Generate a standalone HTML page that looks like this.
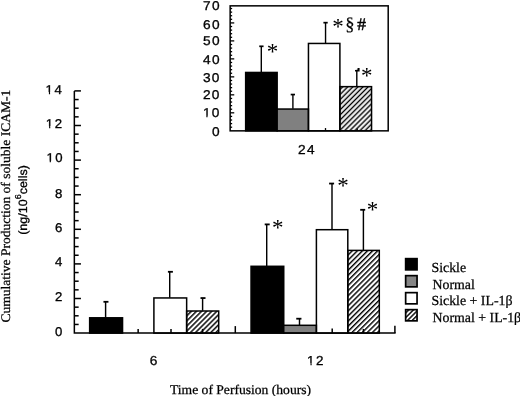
<!DOCTYPE html><html><head><meta charset="utf-8"><title>Cumulative production of soluble ICAM-1</title><style>html,body{margin:0;padding:0;background:#fff;}svg{display:block}text{text-rendering:geometricPrecision}</style></head><body><svg width="520" height="396" viewBox="0 0 520 396"><rect width="520" height="396" fill="#fff"/>
<defs><pattern id="hA" width="3.600" height="10" patternUnits="userSpaceOnUse" patternTransform="rotate(45)"><line x1="2.600" y1="-1" x2="2.600" y2="11" stroke="#000" stroke-width="1.45"/><line x1="-1.000" y1="-1" x2="-1.000" y2="11" stroke="#000" stroke-width="1.45"/></pattern><pattern id="hB" width="3.600" height="10" patternUnits="userSpaceOnUse" patternTransform="rotate(45)"><line x1="1.600" y1="-1" x2="1.600" y2="11" stroke="#000" stroke-width="1.45"/><line x1="-2.000" y1="-1" x2="-2.000" y2="11" stroke="#000" stroke-width="1.45"/></pattern><pattern id="hC" width="3.600" height="10" patternUnits="userSpaceOnUse" patternTransform="rotate(45)"><line x1="1.320" y1="-1" x2="1.320" y2="11" stroke="#000" stroke-width="1.45"/><line x1="-2.280" y1="-1" x2="-2.280" y2="11" stroke="#000" stroke-width="1.45"/></pattern><pattern id="hL" width="3.300" height="10" patternUnits="userSpaceOnUse" patternTransform="rotate(45)"><line x1="3.250" y1="-1" x2="3.250" y2="11" stroke="#000" stroke-width="1.40"/><line x1="-0.050" y1="-1" x2="-0.050" y2="11" stroke="#000" stroke-width="1.40"/></pattern></defs>
<line x1="74.35" y1="324.45" x2="78.65" y2="324.45" stroke="#000" stroke-width="1.50"/>
<line x1="74.35" y1="315.80" x2="78.65" y2="315.80" stroke="#000" stroke-width="1.50"/>
<line x1="74.35" y1="307.15" x2="78.65" y2="307.15" stroke="#000" stroke-width="1.50"/>
<line x1="74.35" y1="298.50" x2="80.95" y2="298.50" stroke="#000" stroke-width="1.50"/>
<line x1="74.35" y1="289.85" x2="78.65" y2="289.85" stroke="#000" stroke-width="1.50"/>
<line x1="74.35" y1="281.20" x2="78.65" y2="281.20" stroke="#000" stroke-width="1.50"/>
<line x1="74.35" y1="272.55" x2="78.65" y2="272.55" stroke="#000" stroke-width="1.50"/>
<line x1="74.35" y1="263.90" x2="80.95" y2="263.90" stroke="#000" stroke-width="1.50"/>
<line x1="74.35" y1="255.25" x2="78.65" y2="255.25" stroke="#000" stroke-width="1.50"/>
<line x1="74.35" y1="246.60" x2="78.65" y2="246.60" stroke="#000" stroke-width="1.50"/>
<line x1="74.35" y1="237.95" x2="78.65" y2="237.95" stroke="#000" stroke-width="1.50"/>
<line x1="74.35" y1="229.30" x2="80.95" y2="229.30" stroke="#000" stroke-width="1.50"/>
<line x1="74.35" y1="220.65" x2="78.65" y2="220.65" stroke="#000" stroke-width="1.50"/>
<line x1="74.35" y1="212.00" x2="78.65" y2="212.00" stroke="#000" stroke-width="1.50"/>
<line x1="74.35" y1="203.35" x2="78.65" y2="203.35" stroke="#000" stroke-width="1.50"/>
<line x1="74.35" y1="194.70" x2="80.95" y2="194.70" stroke="#000" stroke-width="1.50"/>
<line x1="74.35" y1="186.05" x2="78.65" y2="186.05" stroke="#000" stroke-width="1.50"/>
<line x1="74.35" y1="177.40" x2="78.65" y2="177.40" stroke="#000" stroke-width="1.50"/>
<line x1="74.35" y1="168.75" x2="78.65" y2="168.75" stroke="#000" stroke-width="1.50"/>
<line x1="74.35" y1="160.10" x2="80.95" y2="160.10" stroke="#000" stroke-width="1.50"/>
<line x1="74.35" y1="151.45" x2="78.65" y2="151.45" stroke="#000" stroke-width="1.50"/>
<line x1="74.35" y1="142.80" x2="78.65" y2="142.80" stroke="#000" stroke-width="1.50"/>
<line x1="74.35" y1="134.15" x2="78.65" y2="134.15" stroke="#000" stroke-width="1.50"/>
<line x1="74.35" y1="125.50" x2="80.95" y2="125.50" stroke="#000" stroke-width="1.50"/>
<line x1="74.35" y1="116.85" x2="78.65" y2="116.85" stroke="#000" stroke-width="1.50"/>
<line x1="74.35" y1="108.20" x2="78.65" y2="108.20" stroke="#000" stroke-width="1.50"/>
<line x1="74.35" y1="99.55" x2="78.65" y2="99.55" stroke="#000" stroke-width="1.50"/>
<line x1="74.35" y1="90.90" x2="80.95" y2="90.90" stroke="#000" stroke-width="1.50"/>
<line x1="105.60" y1="317.55" x2="105.60" y2="301.80" stroke="#000" stroke-width="1.45"/>
<line x1="103.45" y1="301.80" x2="108.45" y2="301.80" stroke="#000" stroke-width="1.80"/>
<line x1="169.70" y1="297.70" x2="169.70" y2="271.80" stroke="#000" stroke-width="1.45"/>
<line x1="167.90" y1="271.80" x2="172.90" y2="271.80" stroke="#000" stroke-width="1.80"/>
<line x1="202.60" y1="310.75" x2="202.60" y2="298.05" stroke="#000" stroke-width="1.45"/>
<line x1="200.50" y1="298.05" x2="205.50" y2="298.05" stroke="#000" stroke-width="1.80"/>
<line x1="266.70" y1="266.05" x2="266.70" y2="224.40" stroke="#000" stroke-width="1.45"/>
<line x1="264.70" y1="224.40" x2="269.70" y2="224.40" stroke="#000" stroke-width="1.80"/>
<line x1="299.50" y1="325.05" x2="299.50" y2="318.70" stroke="#000" stroke-width="1.45"/>
<line x1="296.25" y1="318.70" x2="301.45" y2="318.70" stroke="#000" stroke-width="1.80"/>
<line x1="332.00" y1="229.45" x2="332.00" y2="183.55" stroke="#000" stroke-width="1.45"/>
<line x1="329.10" y1="183.55" x2="334.10" y2="183.55" stroke="#000" stroke-width="1.80"/>
<line x1="363.40" y1="250.15" x2="363.40" y2="209.80" stroke="#000" stroke-width="1.45"/>
<line x1="360.20" y1="209.80" x2="365.20" y2="209.80" stroke="#000" stroke-width="1.80"/>
<rect x="89.65" y="317.80" width="32.90" height="15.30" fill="#000" stroke="#000" stroke-width="1.50"/>
<rect x="153.90" y="297.95" width="32.75" height="35.15" fill="none" stroke="#000" stroke-width="1.50"/>
<rect x="186.65" y="311.00" width="32.05" height="22.10" fill="url(#hA)" stroke="#000" stroke-width="1.50"/>
<rect x="251.05" y="266.30" width="32.70" height="66.80" fill="#000" stroke="#000" stroke-width="1.50"/>
<rect x="283.75" y="325.30" width="32.65" height="7.80" fill="#808080" stroke="#000" stroke-width="1.50"/>
<rect x="316.40" y="229.70" width="31.40" height="103.40" fill="none" stroke="#000" stroke-width="1.50"/>
<rect x="347.80" y="250.40" width="31.50" height="82.70" fill="url(#hB)" stroke="#000" stroke-width="1.50"/>
<line x1="138.15" y1="333.10" x2="138.15" y2="328.90" stroke="#000" stroke-width="1.50"/>
<line x1="171.00" y1="333.10" x2="171.00" y2="328.90" stroke="#000" stroke-width="1.50"/>
<line x1="202.60" y1="333.10" x2="202.60" y2="328.90" stroke="#000" stroke-width="1.50"/>
<line x1="235.30" y1="333.10" x2="235.30" y2="326.10" stroke="#000" stroke-width="1.50"/>
<line x1="332.20" y1="333.10" x2="332.20" y2="328.50" stroke="#000" stroke-width="1.50"/>
<line x1="363.40" y1="333.10" x2="363.40" y2="328.90" stroke="#000" stroke-width="1.50"/>
<line x1="394.90" y1="333.10" x2="394.90" y2="325.70" stroke="#000" stroke-width="1.50"/>
<path d="M74.35 90.90 V333.10 H395.65" fill="none" stroke="#000" stroke-width="1.5"/>
<line x1="230.15" y1="127.20" x2="232.15" y2="127.20" stroke="#000" stroke-width="1.30"/>
<line x1="230.15" y1="123.61" x2="232.15" y2="123.61" stroke="#000" stroke-width="1.30"/>
<line x1="230.15" y1="120.01" x2="232.15" y2="120.01" stroke="#000" stroke-width="1.30"/>
<line x1="230.15" y1="116.42" x2="232.15" y2="116.42" stroke="#000" stroke-width="1.30"/>
<line x1="230.15" y1="112.82" x2="234.25" y2="112.82" stroke="#000" stroke-width="1.30"/>
<line x1="230.15" y1="109.22" x2="232.15" y2="109.22" stroke="#000" stroke-width="1.30"/>
<line x1="230.15" y1="105.63" x2="232.15" y2="105.63" stroke="#000" stroke-width="1.30"/>
<line x1="230.15" y1="102.03" x2="232.15" y2="102.03" stroke="#000" stroke-width="1.30"/>
<line x1="230.15" y1="98.44" x2="232.15" y2="98.44" stroke="#000" stroke-width="1.30"/>
<line x1="230.15" y1="94.84" x2="234.25" y2="94.84" stroke="#000" stroke-width="1.30"/>
<line x1="230.15" y1="91.24" x2="232.15" y2="91.24" stroke="#000" stroke-width="1.30"/>
<line x1="230.15" y1="87.65" x2="232.15" y2="87.65" stroke="#000" stroke-width="1.30"/>
<line x1="230.15" y1="84.05" x2="232.15" y2="84.05" stroke="#000" stroke-width="1.30"/>
<line x1="230.15" y1="80.46" x2="232.15" y2="80.46" stroke="#000" stroke-width="1.30"/>
<line x1="230.15" y1="76.86" x2="234.25" y2="76.86" stroke="#000" stroke-width="1.30"/>
<line x1="230.15" y1="73.26" x2="232.15" y2="73.26" stroke="#000" stroke-width="1.30"/>
<line x1="230.15" y1="69.67" x2="232.15" y2="69.67" stroke="#000" stroke-width="1.30"/>
<line x1="230.15" y1="66.07" x2="232.15" y2="66.07" stroke="#000" stroke-width="1.30"/>
<line x1="230.15" y1="62.48" x2="232.15" y2="62.48" stroke="#000" stroke-width="1.30"/>
<line x1="230.15" y1="58.88" x2="234.25" y2="58.88" stroke="#000" stroke-width="1.30"/>
<line x1="230.15" y1="55.28" x2="232.15" y2="55.28" stroke="#000" stroke-width="1.30"/>
<line x1="230.15" y1="51.69" x2="232.15" y2="51.69" stroke="#000" stroke-width="1.30"/>
<line x1="230.15" y1="48.09" x2="232.15" y2="48.09" stroke="#000" stroke-width="1.30"/>
<line x1="230.15" y1="44.50" x2="232.15" y2="44.50" stroke="#000" stroke-width="1.30"/>
<line x1="230.15" y1="40.90" x2="234.25" y2="40.90" stroke="#000" stroke-width="1.30"/>
<line x1="230.15" y1="37.30" x2="232.15" y2="37.30" stroke="#000" stroke-width="1.30"/>
<line x1="230.15" y1="33.71" x2="232.15" y2="33.71" stroke="#000" stroke-width="1.30"/>
<line x1="230.15" y1="30.11" x2="232.15" y2="30.11" stroke="#000" stroke-width="1.30"/>
<line x1="230.15" y1="26.52" x2="232.15" y2="26.52" stroke="#000" stroke-width="1.30"/>
<line x1="230.15" y1="22.92" x2="234.25" y2="22.92" stroke="#000" stroke-width="1.30"/>
<line x1="230.15" y1="19.32" x2="232.15" y2="19.32" stroke="#000" stroke-width="1.30"/>
<line x1="230.15" y1="15.73" x2="232.15" y2="15.73" stroke="#000" stroke-width="1.30"/>
<line x1="230.15" y1="12.13" x2="232.15" y2="12.13" stroke="#000" stroke-width="1.30"/>
<line x1="230.15" y1="8.54" x2="232.15" y2="8.54" stroke="#000" stroke-width="1.30"/>
<line x1="261.30" y1="72.20" x2="261.30" y2="46.30" stroke="#000" stroke-width="1.40"/>
<line x1="259.25" y1="46.30" x2="263.55" y2="46.30" stroke="#000" stroke-width="1.70"/>
<line x1="292.90" y1="108.80" x2="292.90" y2="94.55" stroke="#000" stroke-width="1.40"/>
<line x1="290.70" y1="94.55" x2="295.00" y2="94.55" stroke="#000" stroke-width="1.70"/>
<line x1="325.55" y1="43.20" x2="325.55" y2="22.67" stroke="#000" stroke-width="1.40"/>
<line x1="323.40" y1="22.67" x2="327.70" y2="22.67" stroke="#000" stroke-width="1.70"/>
<line x1="356.80" y1="86.40" x2="356.80" y2="70.60" stroke="#000" stroke-width="1.40"/>
<path d="M355.0 69.9 L357.4 69.7 L357.6 67.9 L359.6 67.9 L359.6 71.5 L355.0 71.5 Z" fill="#000"/>
<rect x="245.65" y="72.45" width="31.50" height="58.40" fill="#000" stroke="#000" stroke-width="1.50"/>
<rect x="277.15" y="109.05" width="31.30" height="21.80" fill="#808080" stroke="#000" stroke-width="1.50"/>
<rect x="308.45" y="43.45" width="31.45" height="87.40" fill="none" stroke="#000" stroke-width="1.50"/>
<rect x="339.90" y="86.65" width="31.65" height="44.20" fill="url(#hC)" stroke="#000" stroke-width="1.50"/>
<line x1="325.50" y1="130.85" x2="325.50" y2="128.05" stroke="#000" stroke-width="1.30"/>
<line x1="357.20" y1="130.85" x2="357.20" y2="128.45" stroke="#000" stroke-width="1.30"/>
<rect x="230.15" y="5.85" width="158.05" height="125.00" fill="none" stroke="#000" stroke-width="1.5"/>
<rect x="405.65" y="258.65" width="11.4" height="11.2" fill="#000" stroke="#000" stroke-width="1.7"/>
<rect x="405.65" y="275.65" width="11.4" height="11.2" fill="#858585" stroke="#000" stroke-width="1.7"/>
<rect x="405.65" y="292.65" width="11.4" height="11.2" fill="#fff" stroke="#000" stroke-width="1.7"/>
<rect x="405.65" y="309.65" width="11.4" height="11.2" fill="url(#hL)" stroke="#000" stroke-width="1.7"/>
<defs><mask id="m0" maskUnits="userSpaceOnUse" x="-5" y="-20" width="40" height="30" maskContentUnits="userSpaceOnUse"><rect x="-5" y="-20" width="40" height="30" fill="#fff"/><rect x="-1.00" y="-1.46" width="4.22" height="3.46" fill="#000"/><rect x="4.35" y="-1.46" width="3.04" height="3.46" fill="#000"/></mask><mask id="m1" maskUnits="userSpaceOnUse" x="-5" y="-20" width="40" height="30" maskContentUnits="userSpaceOnUse"><rect x="-5" y="-20" width="40" height="30" fill="#fff"/><rect x="-1.00" y="-1.46" width="4.22" height="3.46" fill="#000"/><rect x="4.35" y="-1.46" width="3.04" height="3.46" fill="#000"/></mask><mask id="m2" maskUnits="userSpaceOnUse" x="-5" y="-20" width="40" height="30" maskContentUnits="userSpaceOnUse"><rect x="-5" y="-20" width="40" height="30" fill="#fff"/><rect x="-1.00" y="-1.46" width="4.22" height="3.46" fill="#000"/><rect x="4.35" y="-1.46" width="3.04" height="3.46" fill="#000"/></mask><mask id="m3" maskUnits="userSpaceOnUse" x="-5" y="-20" width="40" height="30" maskContentUnits="userSpaceOnUse"><rect x="-5" y="-20" width="40" height="30" fill="#fff"/><rect x="-1.00" y="-1.47" width="4.27" height="3.47" fill="#000"/><rect x="4.42" y="-1.47" width="3.08" height="3.47" fill="#000"/></mask><mask id="m4" maskUnits="userSpaceOnUse" x="-5" y="-20" width="40" height="30" maskContentUnits="userSpaceOnUse"><rect x="-5" y="-20" width="40" height="30" fill="#fff"/><rect x="-1.00" y="-1.46" width="4.22" height="3.46" fill="#000"/><rect x="4.35" y="-1.46" width="3.04" height="3.46" fill="#000"/></mask></defs>
<text transform="translate(45.60,93.65) scale(1.030,1)" font-family="'Liberation Sans', Arial, sans-serif" font-size="12.80" letter-spacing="1.50" stroke="#000" stroke-width="0.3" mask="url(#m0)">14</text>
<text transform="translate(45.80,127.70) scale(1.030,1)" font-family="'Liberation Sans', Arial, sans-serif" font-size="12.80" letter-spacing="1.50" stroke="#000" stroke-width="0.3" mask="url(#m1)">12</text>
<text transform="translate(46.40,162.30) scale(1.030,1)" font-family="'Liberation Sans', Arial, sans-serif" font-size="12.80" letter-spacing="1.50" stroke="#000" stroke-width="0.3" mask="url(#m2)">10</text>
<text transform="translate(55.00,197.90) scale(1.030,1)" font-family="'Liberation Sans', Arial, sans-serif" font-size="12.80" stroke="#000" stroke-width="0.3">8</text>
<text transform="translate(55.00,232.30) scale(1.030,1)" font-family="'Liberation Sans', Arial, sans-serif" font-size="12.80" stroke="#000" stroke-width="0.3">6</text>
<text transform="translate(55.00,265.90) scale(1.030,1)" font-family="'Liberation Sans', Arial, sans-serif" font-size="12.80" stroke="#000" stroke-width="0.3">4</text>
<text transform="translate(55.00,301.10) scale(1.030,1)" font-family="'Liberation Sans', Arial, sans-serif" font-size="12.80" stroke="#000" stroke-width="0.3">2</text>
<text transform="translate(55.00,336.00) scale(1.030,1)" font-family="'Liberation Sans', Arial, sans-serif" font-size="12.80" stroke="#000" stroke-width="0.3">0</text>
<text transform="translate(149.75,365.00) scale(1.060,1)" font-family="'Liberation Sans', Arial, sans-serif" font-size="13.00" stroke="#000" stroke-width="0.3">6</text>
<text transform="translate(307.10,364.80) scale(1.030,1)" font-family="'Liberation Sans', Arial, sans-serif" font-size="13.00" letter-spacing="1.50" stroke="#000" stroke-width="0.3" mask="url(#m3)">12</text>
<text transform="translate(298.05,153.80) scale(1.050,1)" font-family="'Liberation Sans', Arial, sans-serif" font-size="13.00" letter-spacing="1.30" stroke="#000" stroke-width="0.3">24</text>
<text transform="translate(203.10,10.30) scale(1.070,1)" font-family="'Liberation Sans', Arial, sans-serif" font-size="12.80" letter-spacing="1.20" stroke="#000" stroke-width="0.3">70</text>
<text transform="translate(203.00,28.80) scale(1.070,1)" font-family="'Liberation Sans', Arial, sans-serif" font-size="12.80" letter-spacing="1.20" stroke="#000" stroke-width="0.3">60</text>
<text transform="translate(203.00,44.50) scale(1.070,1)" font-family="'Liberation Sans', Arial, sans-serif" font-size="12.80" letter-spacing="1.20" stroke="#000" stroke-width="0.3">50</text>
<text transform="translate(203.00,63.60) scale(1.070,1)" font-family="'Liberation Sans', Arial, sans-serif" font-size="12.80" letter-spacing="1.20" stroke="#000" stroke-width="0.3">40</text>
<text transform="translate(202.90,81.70) scale(1.070,1)" font-family="'Liberation Sans', Arial, sans-serif" font-size="12.80" letter-spacing="1.20" stroke="#000" stroke-width="0.3">30</text>
<text transform="translate(202.90,99.10) scale(1.070,1)" font-family="'Liberation Sans', Arial, sans-serif" font-size="12.80" letter-spacing="1.20" stroke="#000" stroke-width="0.3">20</text>
<text transform="translate(202.90,117.30) scale(1.070,1)" font-family="'Liberation Sans', Arial, sans-serif" font-size="12.80" letter-spacing="1.20" stroke="#000" stroke-width="0.3" mask="url(#m4)">10</text>
<text transform="translate(212.00,135.50) scale(1.070,1)" font-family="'Liberation Sans', Arial, sans-serif" font-size="12.80" stroke="#000" stroke-width="0.3">0</text>
<text transform="translate(170.00,393.60) scale(1.022,1)" font-family="'Liberation Serif', 'Times New Roman', serif" font-size="13.30" stroke="#000" stroke-width="0.25">Time of Perfusion (hours)</text>
<text transform="translate(431.50,271.70) scale(1.000,1)" font-family="'Liberation Serif', 'Times New Roman', serif" font-size="13.85" stroke="#000" stroke-width="0.25">Sickle</text>
<text transform="translate(432.50,288.50) scale(1.000,1)" font-family="'Liberation Serif', 'Times New Roman', serif" font-size="13.85" stroke="#000" stroke-width="0.25">Normal</text>
<text transform="translate(431.50,305.40) scale(1.000,1)" font-family="'Liberation Serif', 'Times New Roman', serif" font-size="13.85" stroke="#000" stroke-width="0.25">Sickle + IL-1β</text>
<text transform="translate(432.50,321.70) scale(1.000,1)" font-family="'Liberation Serif', 'Times New Roman', serif" font-size="13.85" stroke="#000" stroke-width="0.25">Normal + IL-1β</text>
<text transform="translate(272.05,235.25) scale(1.000,1)" font-family="'Liberation Serif', 'Times New Roman', serif" font-size="23.00" >*</text>
<text transform="translate(337.35,193.15) scale(1.000,1)" font-family="'Liberation Serif', 'Times New Roman', serif" font-size="23.00" >*</text>
<text transform="translate(366.65,216.75) scale(1.000,1)" font-family="'Liberation Serif', 'Times New Roman', serif" font-size="23.00" >*</text>
<text transform="translate(266.85,59.10) scale(1.000,1)" font-family="'Liberation Serif', 'Times New Roman', serif" font-size="23.00" >*</text>
<text transform="translate(360.95,82.65) scale(1.000,1)" font-family="'Liberation Serif', 'Times New Roman', serif" font-size="23.00" >*</text>
<text transform="translate(332.20,33.60) scale(1.000,1)" font-family="'Liberation Serif', 'Times New Roman', serif" font-size="23.00" >*</text>
<text transform="translate(345.20,29.80) scale(1.000,1)" font-family="'Liberation Serif', 'Times New Roman', serif" font-size="18.50" stroke="#000" stroke-width="0.2">§</text>
<text transform="translate(357.20,30.00) scale(1.000,1)" font-family="'Liberation Serif', 'Times New Roman', serif" font-size="17.50" stroke="#000" stroke-width="0.45">#</text>
<text transform="translate(10.10,322.50) rotate(-90) scale(1.0320,1)" font-family="'Liberation Serif', 'Times New Roman', serif" font-size="13.10" stroke="#000" stroke-width="0.25">Cumulative Production of soluble ICAM-1</text>
<text transform="translate(27.00,234.80) rotate(-90) scale(1.0424,1)" font-family="'Liberation Sans', Arial, sans-serif" font-size="12.00" stroke="#000" stroke-width="0.3">(ng/10<tspan font-size="8.6" dy="-6.3">6</tspan><tspan dy="6.3">cells)</tspan></text>
</svg></body></html>
